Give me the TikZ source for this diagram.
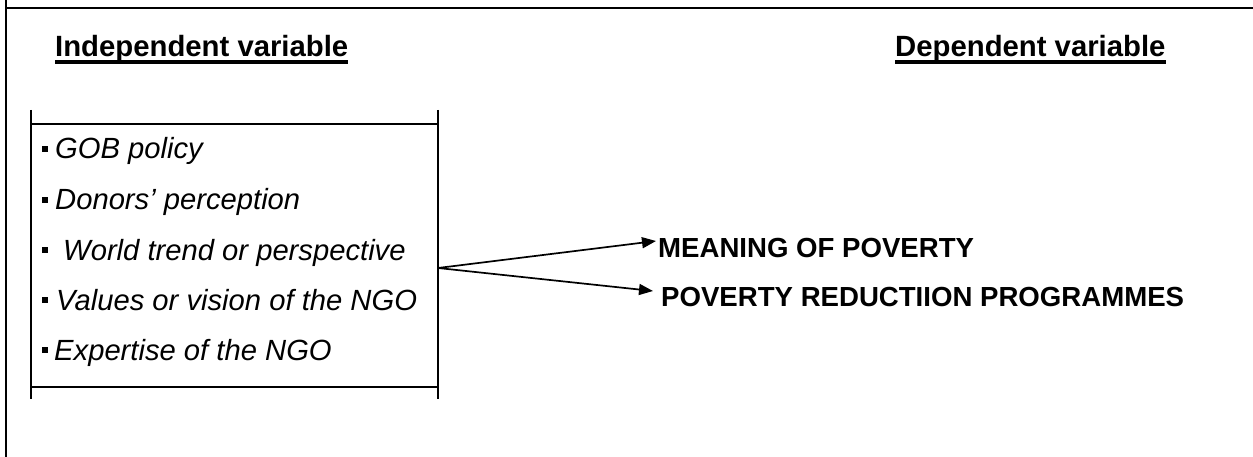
\documentclass[tikz,border=0pt]{standalone}
\usepackage{fontspec}
\setmainfont{Liberation Sans}
\usetikzlibrary{arrows.meta}
\tikzset{
  frame/.style={line width=2pt, black},
  boxline/.style={line width=2pt, black},
  head/.style={anchor=base west, inner sep=0pt, font=\fontsize{29.3}{35}\selectfont\bfseries},
  item/.style={anchor=base west, inner sep=0pt, font=\fontsize{29.2}{35}\selectfont\itshape},
  outcome/.style={anchor=base west, inner sep=0pt, font=\fontsize{27.6}{33}\selectfont\bfseries},
  bul/.style={fill=black, draw=none, minimum size=6pt, inner sep=0pt},
  conn/.style={line width=1.7pt, -{Triangle[length=14pt, width=11pt]}},
  uline/.style={line width=3.2pt}
}
\begin{document}
\begin{tikzpicture}[x=1pt,y=-1pt]
\useasboundingbox (0,0) rectangle (1253,457);
% outer frame
\coordinate (fTop) at (6,0);
\coordinate (fCorner) at (6,8);
\coordinate (fRight) at (1253,8);
\coordinate (fBottom) at (6,457);
\draw[frame] (fTop) -- (fBottom);
\draw[frame] (fCorner) -- (fRight);
% headers
\node[head] (ih) at (55,57) {Independent variable};
\node[head] (dh) at (895,57) {Dependent variable};
\draw[uline] ([yshift=-5pt]ih.base west) -- ([yshift=-5pt]ih.base east);
\draw[uline] ([yshift=-5pt]dh.base west) -- ([yshift=-5pt]dh.base east);
% box
\coordinate (bl1) at (31,110);
\coordinate (bl2) at (31,399);
\coordinate (br1) at (438,110);
\coordinate (br2) at (438,399);
\coordinate (ht1) at (31,124);
\coordinate (ht2) at (438,124);
\coordinate (hb1) at (31,387);
\coordinate (hb2) at (438,387);
\draw[boxline] (bl1) -- (bl2);
\draw[boxline] (br1) -- (br2);
\draw[boxline] (ht1) -- (ht2);
\draw[boxline] (hb1) -- (hb2);
% bullets
\node[bul] (b1) at (44.5,149) {};
\node[bul] (b2) at (44.5,200) {};
\node[bul] (b3) at (44.5,250) {};
\node[bul] (b4) at (44.5,300) {};
\node[bul] (b5) at (44.5,350) {};
% items
\node[item] (i1) at (55,159) {GOB policy};
\node[item] (i2) at (55,210) {Donors’ perception};
\node[item] (i3) at (63,260) {World trend or perspective};
\node[item] (i4) at (56,310) {Values or vision of the NGO};
\node[item] (i5) at (54,360) {Expertise of the NGO};
% outcomes
\node[outcome] (o1) at (658,258) {MEANING OF POVERTY};
\node[outcome] (o2) at (661,306) {POVERTY REDUCTIION PROGRAMMES};
% connectors
\coordinate (src) at (438,268);
\coordinate (t1) at (656,241);
\coordinate (t2) at (653,291);
\draw[conn] (src) -- (t1);
\draw[conn] (src) -- (t2);
\end{tikzpicture}
\end{document}
